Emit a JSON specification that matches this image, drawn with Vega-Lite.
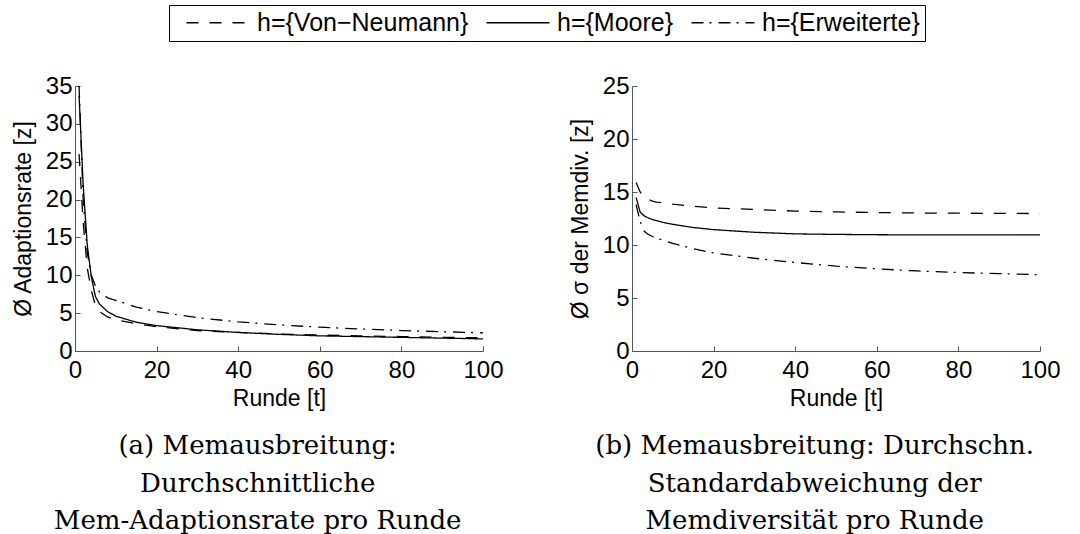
{
  "$schema": "https://vega.github.io/schema/vega-lite/v6.json",
  "background": "white",
  "padding": {"left": 12, "top": 4, "right": 5, "bottom": 0},
  "config": {
    "view": {"stroke": null},
    "font": "Liberation Sans",
    "axis": {
      "grid": false,
      "labelFlush": false,
      "domainColor": "#555555",
      "tickColor": "#555555",
      "tickSize": -5,
      "labelPadding": 4,
      "labelFont": "Liberation Sans",
      "labelFontSize": 24,
      "labelColor": "black",
      "titleFont": "Liberation Sans",
      "titleFontSize": 23,
      "titleFontWeight": "normal",
      "titleColor": "black"
    },
    "title": {"font": "DejaVu Serif", "fontSize": 26, "fontWeight": "normal", "color": "black"}
  },
  "datasets": {
    "a": [
      {"t": 1, "v": 26, "h": "h={Von−Neumann}"}, {"t": 2, "v": 17, "h": "h={Von−Neumann}"}, {"t": 3, "v": 11, "h": "h={Von−Neumann}"}, {"t": 4, "v": 8, "h": "h={Von−Neumann}"}, {"t": 5, "v": 6, "h": "h={Von−Neumann}"}, {"t": 6, "v": 5.2, "h": "h={Von−Neumann}"}, {"t": 8, "v": 4.5, "h": "h={Von−Neumann}"}, {"t": 10, "v": 4.1, "h": "h={Von−Neumann}"}, {"t": 15, "v": 3.6, "h": "h={Von−Neumann}"}, {"t": 20, "v": 3.2, "h": "h={Von−Neumann}"}, {"t": 30, "v": 2.7, "h": "h={Von−Neumann}"}, {"t": 40, "v": 2.45, "h": "h={Von−Neumann}"}, {"t": 50, "v": 2.25, "h": "h={Von−Neumann}"}, {"t": 60, "v": 2.1, "h": "h={Von−Neumann}"}, {"t": 70, "v": 2.0, "h": "h={Von−Neumann}"}, {"t": 80, "v": 1.9, "h": "h={Von−Neumann}"}, {"t": 90, "v": 1.8, "h": "h={Von−Neumann}"}, {"t": 100, "v": 1.75, "h": "h={Von−Neumann}"},
      {"t": 1, "v": 33.7, "h": "h={Moore}"}, {"t": 2, "v": 22, "h": "h={Moore}"}, {"t": 3, "v": 14, "h": "h={Moore}"}, {"t": 4, "v": 9.8, "h": "h={Moore}"}, {"t": 5, "v": 7.2, "h": "h={Moore}"}, {"t": 6, "v": 6.2, "h": "h={Moore}"}, {"t": 8, "v": 5.2, "h": "h={Moore}"}, {"t": 10, "v": 4.6, "h": "h={Moore}"}, {"t": 15, "v": 3.8, "h": "h={Moore}"}, {"t": 20, "v": 3.35, "h": "h={Moore}"}, {"t": 30, "v": 2.8, "h": "h={Moore}"}, {"t": 40, "v": 2.45, "h": "h={Moore}"}, {"t": 50, "v": 2.2, "h": "h={Moore}"}, {"t": 60, "v": 2.0, "h": "h={Moore}"}, {"t": 70, "v": 1.9, "h": "h={Moore}"}, {"t": 80, "v": 1.8, "h": "h={Moore}"}, {"t": 90, "v": 1.7, "h": "h={Moore}"}, {"t": 100, "v": 1.6, "h": "h={Moore}"},
      {"t": 1, "v": 35, "h": "h={Erweiterte}"}, {"t": 2, "v": 20, "h": "h={Erweiterte}"}, {"t": 3, "v": 13, "h": "h={Erweiterte}"}, {"t": 4, "v": 10, "h": "h={Erweiterte}"}, {"t": 5, "v": 8.6, "h": "h={Erweiterte}"}, {"t": 6, "v": 7.8, "h": "h={Erweiterte}"}, {"t": 8, "v": 7.0, "h": "h={Erweiterte}"}, {"t": 10, "v": 6.7, "h": "h={Erweiterte}"}, {"t": 15, "v": 5.8, "h": "h={Erweiterte}"}, {"t": 20, "v": 5.2, "h": "h={Erweiterte}"}, {"t": 30, "v": 4.4, "h": "h={Erweiterte}"}, {"t": 40, "v": 3.85, "h": "h={Erweiterte}"}, {"t": 50, "v": 3.45, "h": "h={Erweiterte}"}, {"t": 60, "v": 3.15, "h": "h={Erweiterte}"}, {"t": 70, "v": 2.9, "h": "h={Erweiterte}"}, {"t": 80, "v": 2.7, "h": "h={Erweiterte}"}, {"t": 90, "v": 2.55, "h": "h={Erweiterte}"}, {"t": 100, "v": 2.4, "h": "h={Erweiterte}"}
    ],
    "b": [
      {"t": 1, "v": 15.9, "h": "h={Von−Neumann}"}, {"t": 2, "v": 15.0, "h": "h={Von−Neumann}"}, {"t": 3, "v": 14.5, "h": "h={Von−Neumann}"}, {"t": 4, "v": 14.3, "h": "h={Von−Neumann}"}, {"t": 5, "v": 14.15, "h": "h={Von−Neumann}"}, {"t": 6, "v": 14.05, "h": "h={Von−Neumann}"}, {"t": 8, "v": 13.95, "h": "h={Von−Neumann}"}, {"t": 10, "v": 13.85, "h": "h={Von−Neumann}"}, {"t": 15, "v": 13.65, "h": "h={Von−Neumann}"}, {"t": 20, "v": 13.5, "h": "h={Von−Neumann}"}, {"t": 30, "v": 13.35, "h": "h={Von−Neumann}"}, {"t": 40, "v": 13.2, "h": "h={Von−Neumann}"}, {"t": 50, "v": 13.12, "h": "h={Von−Neumann}"}, {"t": 60, "v": 13.06, "h": "h={Von−Neumann}"}, {"t": 70, "v": 13.02, "h": "h={Von−Neumann}"}, {"t": 80, "v": 13.0, "h": "h={Von−Neumann}"}, {"t": 90, "v": 12.98, "h": "h={Von−Neumann}"}, {"t": 100, "v": 12.97, "h": "h={Von−Neumann}"},
      {"t": 1, "v": 14.5, "h": "h={Moore}"}, {"t": 2, "v": 13.1, "h": "h={Moore}"}, {"t": 3, "v": 12.75, "h": "h={Moore}"}, {"t": 4, "v": 12.55, "h": "h={Moore}"}, {"t": 5, "v": 12.4, "h": "h={Moore}"}, {"t": 6, "v": 12.3, "h": "h={Moore}"}, {"t": 8, "v": 12.1, "h": "h={Moore}"}, {"t": 10, "v": 11.95, "h": "h={Moore}"}, {"t": 15, "v": 11.65, "h": "h={Moore}"}, {"t": 20, "v": 11.45, "h": "h={Moore}"}, {"t": 30, "v": 11.2, "h": "h={Moore}"}, {"t": 40, "v": 11.05, "h": "h={Moore}"}, {"t": 50, "v": 11.0, "h": "h={Moore}"}, {"t": 60, "v": 10.97, "h": "h={Moore}"}, {"t": 70, "v": 10.95, "h": "h={Moore}"}, {"t": 80, "v": 10.95, "h": "h={Moore}"}, {"t": 90, "v": 10.95, "h": "h={Moore}"}, {"t": 100, "v": 10.95, "h": "h={Moore}"},
      {"t": 1, "v": 13.8, "h": "h={Erweiterte}"}, {"t": 2, "v": 12.2, "h": "h={Erweiterte}"}, {"t": 3, "v": 11.3, "h": "h={Erweiterte}"}, {"t": 4, "v": 11.0, "h": "h={Erweiterte}"}, {"t": 5, "v": 10.8, "h": "h={Erweiterte}"}, {"t": 6, "v": 10.65, "h": "h={Erweiterte}"}, {"t": 8, "v": 10.4, "h": "h={Erweiterte}"}, {"t": 10, "v": 10.15, "h": "h={Erweiterte}"}, {"t": 15, "v": 9.65, "h": "h={Erweiterte}"}, {"t": 20, "v": 9.25, "h": "h={Erweiterte}"}, {"t": 30, "v": 8.75, "h": "h={Erweiterte}"}, {"t": 40, "v": 8.35, "h": "h={Erweiterte}"}, {"t": 50, "v": 8.0, "h": "h={Erweiterte}"}, {"t": 60, "v": 7.75, "h": "h={Erweiterte}"}, {"t": 70, "v": 7.55, "h": "h={Erweiterte}"}, {"t": 80, "v": 7.4, "h": "h={Erweiterte}"}, {"t": 90, "v": 7.3, "h": "h={Erweiterte}"}, {"t": 100, "v": 7.2, "h": "h={Erweiterte}"}
    ]
  },
  "spacing": 65,
  "hconcat": [
    {
      "width": 408,
      "height": 265,
      "data": {"name": "a"},
      "title": {"text": ["(a) Memausbreitung:", "Durchschnittliche", "Mem-Adaptionsrate pro Runde"], "orient": "bottom", "anchor": "middle", "frame": "bounds", "lineHeight": 37.5, "offset": 23},
      "mark": {"type": "line", "color": "black", "strokeWidth": 1.3},
      "encoding": {
        "x": {"field": "t", "type": "quantitative", "scale": {"domain": [0, 100]}, "axis": {"title": "Runde [t]", "values": [0, 20, 40, 60, 80, 100], "titlePadding": 5, "labelPadding": 12}},
        "y": {"field": "v", "type": "quantitative", "scale": {"domain": [0, 35]}, "axis": {"title": "Ø Adaptionsrate [z]", "values": [0, 5, 10, 15, 20, 25, 30, 35], "titlePadding": 10, "labelPadding": 8}},
        "strokeDash": {"field": "h", "type": "nominal", "scale": {"domain": ["h={Von−Neumann}", "h={Moore}", "h={Erweiterte}"], "range": [[12, 11], [1, 0], [12, 6, 2, 7]]},
          "legend": {"title": null, "orient": "none", "legendX": 94, "legendY": -81, "direction": "horizontal", "strokeColor": "black", "padding": 5, "labelFontSize": 25, "labelFont": "Liberation Sans", "labelColor": "black", "labelLimit": 400, "symbolType": "M0,0H6.3", "symbolSize": 400, "symbolFillColor": "transparent", "symbolStrokeColor": "black", "symbolStrokeWidth": 1.3, "columnPadding": 5, "labelOffset": 58}}
      }
    },
    {
      "width": 408,
      "height": 265,
      "data": {"name": "b"},
      "title": {"text": ["(b) Memausbreitung: Durchschn.", "Standardabweichung der", "Memdiversität pro Runde"], "orient": "bottom", "anchor": "middle", "frame": "bounds", "lineHeight": 37.5, "offset": 23},
      "mark": {"type": "line", "color": "black", "strokeWidth": 1.3},
      "encoding": {
        "x": {"field": "t", "type": "quantitative", "scale": {"domain": [0, 100]}, "axis": {"title": "Runde [t]", "values": [0, 20, 40, 60, 80, 100], "titlePadding": 5, "labelPadding": 12}},
        "y": {"field": "v", "type": "quantitative", "scale": {"domain": [0, 25]}, "axis": {"title": "Ø σ der Memdiv. [z]", "values": [0, 5, 10, 15, 20, 25], "titlePadding": 10, "labelPadding": 8}},
        "strokeDash": {"field": "h", "type": "nominal", "scale": {"domain": ["h={Von−Neumann}", "h={Moore}", "h={Erweiterte}"], "range": [[12, 11], [1, 0], [12, 6, 2, 7]]}}
      }
    }
  ]
}
